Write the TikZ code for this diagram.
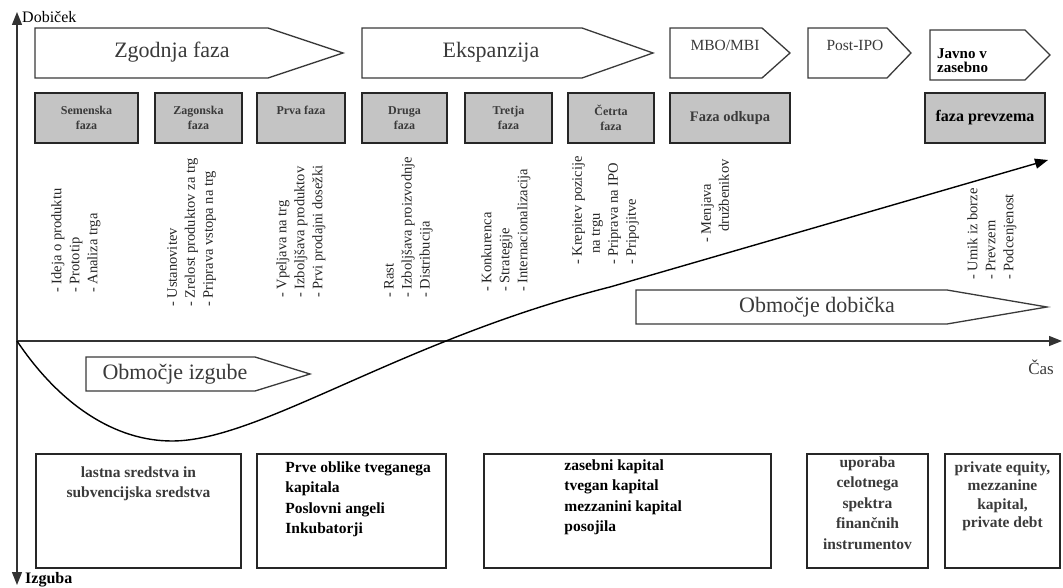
\documentclass[tikz,border=0pt]{standalone}
\usepackage{fontspec}
\setmainfont{Liberation Serif}
\usepackage{tikz}
\usetikzlibrary{arrows.meta, positioning}
\definecolor{boxgray}{HTML}{C4C4C4}
\definecolor{inkgray}{HTML}{3A3A3A}

\begin{document}
\begin{tikzpicture}[
    x=1pt, y=-1pt,
    chev/.style={draw=inkgray, line width=1.3pt, fill=white, line join=miter},
    chevtxt/.style={font=\fontsize{22}{24}\selectfont, text=inkgray, inner sep=0pt},
    midtxt/.style={font=\fontsize{15.5}{17}\selectfont, text=inkgray, inner sep=0pt},
    stagebox/.style={rectangle, draw=black!85, fill=boxgray, line width=1.6pt,
                     inner sep=0pt, align=center, text=inkgray,
                     font=\bfseries\fontsize{12}{14.5}\selectfont},
    todo/.style={rotate=90, anchor=north west, align=left, inner sep=0pt,
                 font=\fontsize{14.5}{18}\selectfont, text=black!85},
    fundbox/.style={rectangle, draw=black!85, line width=1.6pt, inner sep=0pt,
                    minimum height=114pt},
    fundtxt/.style={inner sep=0pt, font=\bfseries\fontsize{15.5}{20.5}\selectfont},
    axis/.style={line width=1.4pt, draw=black!80},
    tip/.style={-{Triangle[length=13pt, width=10pt]}}
]
    \useasboundingbox (0,0) rectangle (1063,588);

    % axes
    \coordinate (origin) at (17,341);
    \coordinate (ytop) at (17,12);
    \coordinate (ybot) at (17,585);
    \coordinate (xend) at (1062,341);
    \draw[axis, {Triangle[length=13pt, width=10pt]}-{Triangle[length=13pt, width=10pt]}] (ytop) -- (ybot);
    \draw[axis, tip] (origin) -- (xend);
    \node[anchor=west, inner sep=0pt, font=\fontsize{16}{18}\selectfont] (dobicek) at (22,17) {Dobiček};
    \node[anchor=west, inner sep=0pt, font=\bfseries\fontsize{16}{18}\selectfont] (izguba) at (25,580) {Izguba};
    \node[inner sep=0pt, font=\fontsize{17}{18}\selectfont, text=inkgray] (cas) at (1041,367) {Čas};

    % profit curve
    \coordinate (lossmin) at (172,441);
    \coordinate (bend) at (610,287);
    \coordinate (gainend) at (1048,160);
    \draw[line width=1.4pt, tip] (origin) .. controls (60,405) and (115,441) .. (lossmin)
        .. controls (260,441) and (400,340) .. (bend) -- (gainend);

    % phases
    \draw[chev] (35,28) -- (268,28) -- (343,53) -- (268,78) -- (35,78) -- cycle;
    \node[chevtxt] (zgodnja) at (172,52) {Zgodnja faza};
    \draw[chev] (362,28) -- (582,28) -- (653,53) -- (582,78) -- (362,78) -- cycle;
    \node[chevtxt] (ekspanzija) at (491,52) {Ekspanzija};
    \draw[chev] (670,28) -- (762,28) -- (790,53) -- (762,78) -- (670,78) -- cycle;
    \node[midtxt] (mbo) at (725,45) {MBO/MBI};
    \draw[chev] (808,28) -- (887,28) -- (911,53) -- (887,78) -- (808,78) -- cycle;
    \node[midtxt] (postipo) at (855,45) {Post-IPO};
    \draw[chev] (930,30) -- (1025,30) -- (1050,55) -- (1025,80) -- (930,80) -- cycle;
    \node[anchor=north west, align=left, inner sep=0pt, font=\bfseries\fontsize{15}{14}\selectfont] (javno) at (937,48) {Javno v\\zasebno};

    % stages
    \node[stagebox, minimum width=103pt, minimum height=50pt] (semenska) at (86.5,118) {Semenska\\faza};
    \node[stagebox, minimum width=87pt, minimum height=50pt] (zagonska) at (198.5,118) {Zagonska\\faza};
    \node[stagebox, minimum width=88pt, minimum height=50pt] (prva) at (301,118) {Prva faza\\\mbox{}};
    \node[stagebox, minimum width=85pt, minimum height=50pt] (druga) at (404.5,118) {Druga\\faza};
    \node[stagebox, minimum width=87pt, minimum height=50pt] (tretja) at (508.5,118) {Tretja\\faza};
    \node[stagebox, minimum width=86pt, minimum height=50pt] (cetrta) at (611,118) {Četrta\\faza};
    \node[stagebox, minimum width=120pt, minimum height=50pt, font=\bfseries\fontsize{14.5}{16}\selectfont] (odkup) at (730,118) {Faza odkupa};
    \node[stagebox, minimum width=120pt, minimum height=50pt, text=black, font=\bfseries\fontsize{16}{18}\selectfont] (prevzem) at (985,118) {faza prevzema};

    % activities
    \node[todo] (idejaList) at (51,293) {- Ideja o produktu\\- Prototip\\- Analiza trga};
    \node[todo] (ustanList) at (167,307) {- Ustanovitev\\- Zrelost produktov za trg\\- Priprava vstopa na trg};
    \node[todo] (vpeljList) at (276,298) {- Vpeljava na trg\\- Izboljšava produktov\\- Prvi prodajni dosežki};
    \node[todo] (rastList) at (384,298) {- Rast\\- Izboljšava proizvodnje\\- Distribucija};
    \node[todo] (konkList) at (481,292) {- Konkurenca\\- Strategije\\- Internacionalizacija};
    \node[todo] (krepList) at (572,265) {- Krepitev pozicije\\\hspace*{11pt}na trgu\\- Priprava na IPO\\- Pripojitve};
    \node[todo] (menjList) at (701,243) {- Menjava\\\hspace*{11pt}družbenikov};
    \node[todo] (umikList) at (967,280) {- Umik iz borze\\- Prevzem\\- Podcenjenost};

    % areas
    \draw[chev] (86,357) -- (255,357) -- (310,374) -- (255,391) -- (86,391) -- cycle;
    \node[chevtxt] (izgube) at (175,374) {Območje izgube};
    \draw[chev] (636,290) -- (947,290) -- (1047,307) -- (947,324) -- (636,324) -- cycle;
    \node[chevtxt] (dobicka) at (817,307) {Območje dobička};

    % financing
    \node[fundbox, minimum width=205pt] (fundA) at (138.5,511) {};
    \node[fundbox, minimum width=189pt] (fundB) at (351.5,511) {};
    \node[fundbox, minimum width=287pt] (fundC) at (627.5,511) {};
    \node[fundbox, minimum width=121pt] (fundD) at (867.5,511) {};
    \node[fundbox, minimum width=115pt] (fundE) at (1002.5,511) {};
    \node[fundtxt, align=center, text=inkgray, below=13pt of fundA.north] (fundAtxt) {lastna sredstva in\\subvencijska sredstva};
    \node[fundtxt, align=left, anchor=north west, below right=8pt and 29pt of fundB.north west] (fundBtxt) {Prve oblike tveganega\\kapitala\\Poslovni angeli\\Inkubatorji};
    \node[fundtxt, align=left, anchor=north west, below right=6pt and 81pt of fundC.north west] (fundCtxt) {zasebni kapital\\tvegan kapital\\mezzanini kapital\\posojila};
    \node[fundtxt, align=center, text=inkgray, below=3pt of fundD.north] (fundDtxt) {uporaba\\celotnega\\spektra\\finančnih\\instrumentov};
    \node[fundtxt, align=center, text=inkgray, font=\bfseries\fontsize{15.5}{18.5}\selectfont, below=8pt of fundE.north] (fundEtxt) {private equity,\\mezzanine\\kapital,\\private debt};
\end{tikzpicture}
\end{document}
